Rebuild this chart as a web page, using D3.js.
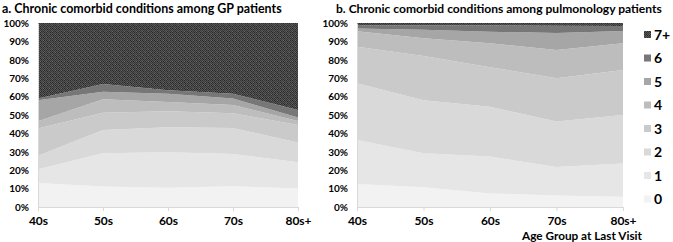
<!DOCTYPE html>
<html><head><meta charset="utf-8">
<script src="https://cdn.jsdelivr.net/npm/d3@7"></script>
<style>
html,body{margin:0;padding:0;background:#fff;}
text{font-family:Lato,"Open Sans",sans-serif;font-weight:bold;fill:#000;}
</style></head>
<body><svg id="c" width="673" height="242"></svg>
<script>
const categories = ["40s","50s","60s","70s","80s+"];
const seriesKeys = ["0","1","2","3","4","5","6","7+"];
const yTicks = [0,10,20,30,40,50,60,70,80,90,100];
// GP patients, % per number of chronic conditions
const gp0 = [13.0, 11.2, 10.4, 11.3, 10.0];
const gp1 = [7.5, 18.0, 19.4, 17.5, 14.3];
const gp2 = [7.3, 12.6, 13.6, 14.2, 10.7];
const gp3 = [14.8, 9.4, 8.7, 7.9, 9.6];
const gp4 = [4.0, 7.3, 4.9, 4.5, 2.2];
const gp5 = [11.4, 4.2, 4.6, 3.6, 1.9];
const gp6 = [1.0, 4.1, 1.8, 2.6, 4.0];
const gp7 = [41.0, 33.2, 36.6, 38.4, 47.3];
// Pulmonology patients
const pu0 = [12.5, 10.7, 7.4, 6.2, 5.6];
const pu1 = [23.9, 18.5, 20.0, 15.6, 18.1];
const pu2 = [30.8, 28.8, 27.1, 24.6, 26.3];
const pu3 = [19.9, 24.0, 21.5, 23.6, 24.5];
const pu4 = [8.4, 9.7, 13.0, 15.3, 14.5];
const pu5 = [1.5, 4.6, 6.3, 9.2, 6.6];
const pu6 = [1.6, 2.5, 3.4, 4.0, 2.8];
const pu7 = [1.4, 1.2, 1.3, 1.5, 1.6];

const gpSeries = [gp0,gp1,gp2,gp3,gp4,gp5,gp6,gp7];
const puSeries = [pu0,pu1,pu2,pu3,pu4,pu5,pu6,pu7];

const colors = ["#f2f2f2","#e6e6e6","#d9d9d9","#cacaca","#bdbdbd","#a6a6a6","#777777","url(#pat)"];

const svg = d3.select("#c");
const defs = svg.append("defs");
const pat = defs.append("pattern").attr("id","pat").attr("patternUnits","userSpaceOnUse")
  .attr("width",6).attr("height",6);
pat.append("rect").attr("width",6).attr("height",6).attr("fill","#555555");
for(let i=0;i<6;i++)for(let j=0;j<6;j++){
  if((i+j)%2===0) pat.append("rect").attr("x",i).attr("y",j).attr("width",1).attr("height",1)
    .attr("fill", (i%3===0||j%3===0)?"#3a3a3a":"#2a2a2a");
  else if(i%3===1&&j%3===1) pat.append("rect").attr("x",i).attr("y",j).attr("width",1).attr("height",1).attr("fill","#6a6a6a");
}

function table(series){
  return categories.map((c,i)=>{
    const o={cat:c};
    seriesKeys.forEach((k,j)=>o[k]=series[j][i]);
    return o;
  });
}

const y = d3.scaleLinear().domain([0,100]).range([207,23]);

function fitText(sel, w, base){
  sel.style("font-size", base+"px");
  const L = sel.node().getComputedTextLength();
  sel.style("font-size", (base*w/L)+"px");
}

function drawChart(series, x0, x1, title, titleX, titleW){
  const x = d3.scalePoint().domain(categories).range([x0,x1]);
  const data = table(series);
  const stacked = d3.stack().keys(seriesKeys)(data);
  const area = d3.area().x(d=>x(d.data.cat)).y0(d=>y(d[0])).y1(d=>y(d[1]));
  const g = svg.append("g");
  g.selectAll("path.a").data(stacked).join("path").attr("class","a")
    .attr("d",area).attr("fill",(d,i)=>colors[i]);
  // y axis
  const ya = g.append("g").attr("transform",`translate(${x0},0)`)
    .call(d3.axisLeft(y).tickValues(yTicks).tickFormat(d=>d+"%").tickSize(0).tickPadding(9));
  ya.select(".domain").attr("stroke","#d9d9d9");
  ya.selectAll("text").style("font-size","10px").attr("font-family",null);
  // x axis
  const xa = g.append("g").attr("transform","translate(0,207)")
    .call(d3.axisBottom(x).tickSizeInner(4).tickSizeOuter(0).tickPadding(5));
  xa.select(".domain").attr("stroke","#d9d9d9");
  xa.selectAll("line").attr("stroke","#d9d9d9");
  xa.selectAll("text").style("font-size","12px").attr("font-family",null);
  const t = svg.append("text").attr("x",titleX).attr("y",12.5).text(title);
  fitText(t, titleW, 13);
}

drawChart(gpSeries, 38, 298, "a. Chronic comorbid conditions among GP patients", 2, 280);
drawChart(puSeries, 357, 623, "b. Chronic comorbid conditions among pulmonology patients", 336, 326);

const at = svg.append("text").attr("x",582).attr("y",240).attr("text-anchor","middle").text("Age Group at Last Visit");
fitText(at, 120, 11.5);

// legend
const legendY = d3.scalePoint().domain(seriesKeys.slice().reverse()).range([34.5,199]);
const lg = svg.append("g");
seriesKeys.forEach((k,i)=>{
  lg.append("rect").attr("x",644).attr("y",legendY(k)-3.5).attr("width",7).attr("height",7).attr("fill",colors[i]);
  lg.append("text").attr("x",654).attr("y",legendY(k)+5).style("font-size","14px").text(k);
});
</script></body></html>
